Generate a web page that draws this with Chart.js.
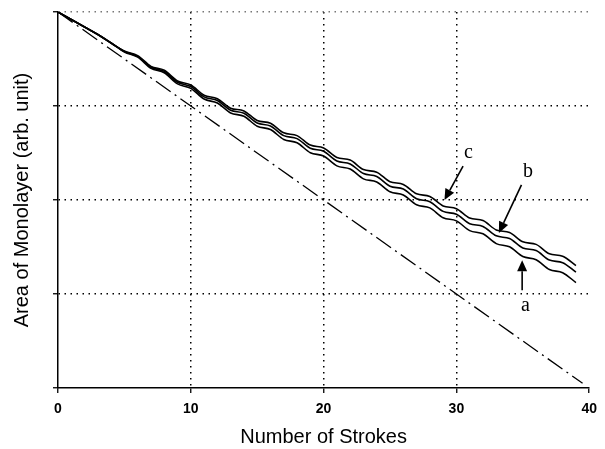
<!DOCTYPE html>
<html>
<head>
<meta charset="utf-8">
<script src="https://cdn.jsdelivr.net/npm/chart.js@4"></script>
<style>
  html, body { margin: 0; padding: 0; background: #fff; }
  #wrap { width: 605px; height: 449px; }
</style>
</head>
<body>
<div id="wrap"><canvas id="chart" width="605" height="449"></canvas></div>
<script>
// number of strokes
const strokes = [0, 1, 2, 3, 4, 5, 6, 7, 8, 9, 10, 11, 12, 13, 14, 15, 16, 17, 18, 19,
  20, 21, 22, 23, 24, 25, 26, 27, 28, 29, 30, 31, 32, 33, 34, 35, 36, 37, 38, 39];

// area of monolayer
const curveA = [4.00, 3.92, 3.84, 3.76, 3.67, 3.575, 3.520, 3.401, 3.354, 3.235,
  3.188, 3.074, 3.032, 2.926, 2.891, 2.785, 2.750, 2.644, 2.609, 2.503,
  2.468, 2.363, 2.330, 2.225, 2.192, 2.087, 2.054, 1.949, 1.916, 1.811,
  1.778, 1.674, 1.640, 1.536, 1.502, 1.398, 1.365, 1.260, 1.227, 1.122];
const curveB = [4.00, 3.92, 3.84, 3.76, 3.67, 3.58, 3.528, 3.412, 3.368, 3.252,
  3.208, 3.097, 3.058, 2.955, 2.923, 2.820, 2.788, 2.685, 2.653, 2.550,
  2.518, 2.415, 2.384, 2.281, 2.250, 2.147, 2.116, 2.013, 1.982, 1.879,
  1.848, 1.748, 1.719, 1.619, 1.590, 1.490, 1.462, 1.361, 1.333, 1.232];
const curveC = [4.00, 3.92, 3.84, 3.76, 3.67, 3.585, 3.536, 3.422, 3.380, 3.266,
  3.224, 3.115, 3.078, 2.977, 2.947, 2.846, 2.816, 2.715, 2.685, 2.584,
  2.554, 2.453, 2.425, 2.324, 2.296, 2.195, 2.166, 2.066, 2.037, 1.937,
  1.908, 1.809, 1.781, 1.682, 1.654, 1.555, 1.528, 1.428, 1.401, 1.302];

// dash-dot reference line
const guideX = [0, 39.5];
const guideY = [4, 0.05];

// curve labels: text position and arrow tip, in data units
const labelNames = ["c", "b", "a"];
const labelPos = [[30.9, 2.5], [35.4, 2.3], [35.2, 0.88]];
const arrowFrom = [[30.5, 2.36], [34.9, 2.16], [34.95, 1.04]];
const arrowTip = [[29.1, 2.0], [33.2, 1.65], [34.95, 1.36]];

const fontSans = "'Liberation Sans', Arial, sans-serif";

function toPoints(xs, ys) {
  return xs.map((x, i) => ({ x: x, y: ys[i] }));
}

const curveStyle = {
  borderColor: "#000",
  borderWidth: 1.6,
  pointRadius: 0,
  fill: false,
  cubicInterpolationMode: "monotone",
};

// arrows and letters a, b, c
const arrowLabels = {
  id: "arrowLabels",
  afterDatasetsDraw(chart) {
    const ctx = chart.ctx;
    const xs = chart.scales.x;
    const ys = chart.scales.y;
    ctx.save();
    labelNames.forEach((name, i) => {
      const x1 = xs.getPixelForValue(arrowFrom[i][0]);
      const y1 = ys.getPixelForValue(arrowFrom[i][1]);
      const x2 = xs.getPixelForValue(arrowTip[i][0]);
      const y2 = ys.getPixelForValue(arrowTip[i][1]);
      const ang = Math.atan2(y2 - y1, x2 - x1);
      const headLen = 11;
      const headW = 5;
      const bx = x2 - headLen * Math.cos(ang);
      const by = y2 - headLen * Math.sin(ang);

      ctx.strokeStyle = "#000";
      ctx.lineWidth = 1.6;
      ctx.beginPath();
      ctx.moveTo(x1, y1);
      ctx.lineTo(bx, by);
      ctx.stroke();

      ctx.fillStyle = "#000";
      ctx.beginPath();
      ctx.moveTo(x2, y2);
      ctx.lineTo(bx + headW * Math.sin(ang), by - headW * Math.cos(ang));
      ctx.lineTo(bx - headW * Math.sin(ang), by + headW * Math.cos(ang));
      ctx.closePath();
      ctx.fill();

      ctx.font = "20px 'Liberation Serif', 'Times New Roman', serif";
      ctx.textAlign = "center";
      ctx.textBaseline = "middle";
      ctx.fillText(name, xs.getPixelForValue(labelPos[i][0]), ys.getPixelForValue(labelPos[i][1]));
    });
    ctx.restore();
  },
};

const config = {
  type: "line",
  data: {
    datasets: [
      { ...curveStyle, label: "a", data: toPoints(strokes, curveA) },
      { ...curveStyle, label: "b", data: toPoints(strokes, curveB) },
      { ...curveStyle, label: "c", data: toPoints(strokes, curveC) },
      {
        label: "guide",
        data: toPoints(guideX, guideY),
        borderColor: "#000",
        borderWidth: 1.3,
        borderDash: [18, 5, 2, 5],
        pointRadius: 0,
        fill: false,
      },
    ],
  },
  options: {
    responsive: false,
    animation: false,
    layout: { padding: { top: 12, right: 8, left: 0, bottom: 0 } },
    plugins: { legend: { display: false }, tooltip: { enabled: false } },
    scales: {
      x: {
        type: "linear",
        min: 0,
        max: 40,
        ticks: {
          stepSize: 10,
          color: "#000",
          padding: 8,
          font: { family: fontSans, size: 14, weight: "bold" },
        },
        grid: {
          color: (c) => (c.tick && (c.tick.value === 0 || c.tick.value === 40) ? "rgba(0,0,0,0)" : "#000"),
          lineWidth: 1.5,
          drawTicks: true,
          tickLength: 5,
          tickColor: "#000",
          tickWidth: 1.3,
        },
        border: { display: true, color: "#000", width: 1.5, dash: [1.5, 4.5] },
        title: {
          display: true,
          text: "Number of Strokes",
          color: "#000",
          font: { family: fontSans, size: 20 },
          padding: { top: 4, bottom: 0 },
        },
        afterFit(scale) {
          scale.height = 61;
        },
      },
      y: {
        type: "linear",
        min: 0,
        max: 4,
        ticks: {
          stepSize: 1,
          callback: () => "",
          padding: 0,
        },
        grid: {
          color: (c) => (c.tick && c.tick.value === 0 ? "rgba(0,0,0,0)" : (c.tick && c.tick.value === 4 ? "#777" : "#000")),
          lineWidth: 1.5,
          drawTicks: true,
          tickLength: 5,
          tickColor: "#000",
          tickWidth: 1.3,
        },
        border: { display: true, color: "#000", width: 1.5, dash: [1.5, 4.5] },
        title: {
          display: true,
          text: "Area of Monolayer (arb. unit)",
          color: "#000",
          font: { family: fontSans, size: 20 },
          padding: { top: 10, bottom: 0 },
        },
        afterFit(scale) {
          scale.width = 58;
        },
      },
    },
  },
  plugins: [arrowLabels],
};

new Chart(document.getElementById("chart"), config);
</script>
</body>
</html>
